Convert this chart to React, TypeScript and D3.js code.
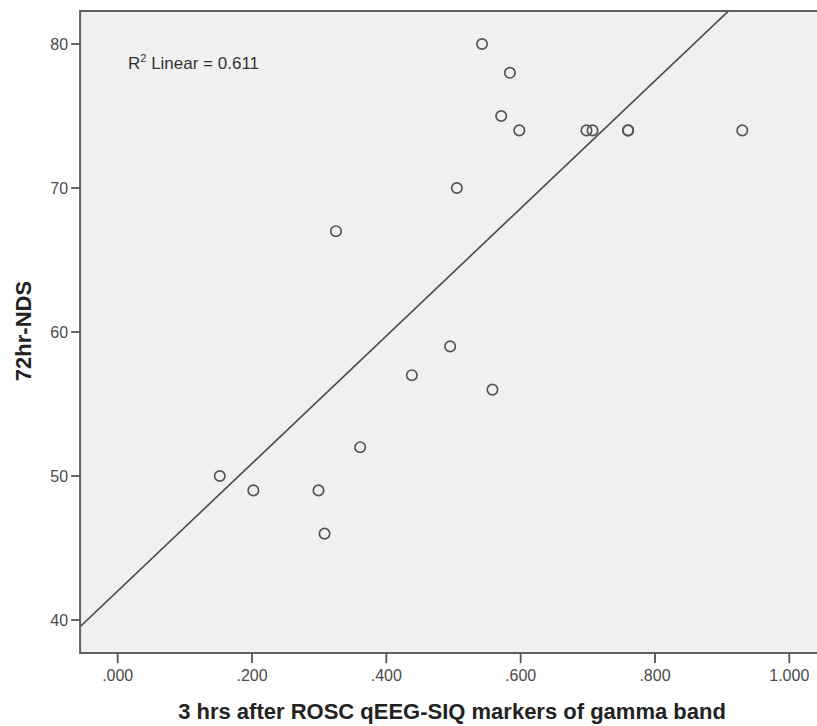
import React, { useEffect, useRef } from 'react';
import * as d3 from 'd3';

// scatter data
const siqGamma = [0.5425, 0.584, 0.571, 0.598, 0.698, 0.707, 0.760, 0.760, 0.930, 0.505,
  0.325, 0.495, 0.438, 0.558, 0.152, 0.202, 0.299, 0.308, 0.361];
const nds72 = [80, 78, 75, 74, 74, 74, 74, 74, 74, 70,
  67, 59, 57, 56, 50, 49, 49, 46, 52];

const xTicks = [0, 0.2, 0.4, 0.6, 0.8, 1.0];
const yTicks = [40, 50, 60, 70, 80];
const xDomain = [-0.056, 1.06];
const yDomain = [37.7, 82.3];

const r2Label = '0.611';
const xTitle = '3 hrs after ROSC qEEG-SIQ markers of gamma band';
const yTitle = '72hr-NDS';

const width = 817;
const height = 726;
const font = '"Liberation Sans", Arial, sans-serif';

function ScatterChart() {
  const ref = useRef<SVGSVGElement | null>(null);

  useEffect(() => {
    const svg = d3.select(ref.current);
    svg.selectAll('*').remove();

    var x = d3.scaleLinear().domain([0, 1]).range([117.7, 789.3]);
    var y = d3.scaleLinear().domain([40, 80]).range([620, 44]);

    var left = x(xDomain[0]);
    var right = x(xDomain[1]);
    var top = y(yDomain[1]);
    var bottom = y(yDomain[0]);

    svg.append('defs').append('clipPath').attr('id', 'plotClip')
      .append('rect').attr('x', left).attr('y', top)
      .attr('width', right - left).attr('height', bottom - top);

    // plot background
    svg.append('rect')
      .attr('x', left).attr('y', top)
      .attr('width', right - left).attr('height', bottom - top)
      .attr('fill', '#f0f0f0');

    // linear fit from the data
    var mx = d3.mean(siqGamma) as number;
    var my = d3.mean(nds72) as number;
    var sxy = d3.sum(siqGamma, (d, i) => (d - mx) * (nds72[i] - my));
    var sxx = d3.sum(siqGamma, d => (d - mx) * (d - mx));
    var slope = sxy / sxx;
    var icpt = my - slope * mx;
    var line = d3.line<number>().x(d => x(d)).y(d => y(icpt + slope * d));
    svg.append('path')
      .datum(xDomain)
      .attr('d', line)
      .attr('clip-path', 'url(#plotClip)')
      .attr('fill', 'none')
      .attr('stroke', '#4a4a4a')
      .attr('stroke-width', 1.6);

    // points
    svg.append('g')
      .attr('fill', 'none')
      .attr('stroke', '#555')
      .attr('stroke-width', 1.7)
      .selectAll('circle')
      .data(d3.range(siqGamma.length))
      .join('circle')
      .attr('cx', i => x(siqGamma[i]))
      .attr('cy', i => y(nds72[i]))
      .attr('r', 5.2);

    // frame
    svg.append('path')
      .attr('d', `M${right},${top}H${left}V${bottom}H${right}`)
      .attr('fill', 'none')
      .attr('stroke', '#606060')
      .attr('stroke-width', 2);

    // x ticks
    var xg = svg.append('g');
    xg.selectAll('line').data(xTicks).join('line')
      .attr('x1', d => x(d)).attr('x2', d => x(d))
      .attr('y1', bottom).attr('y2', bottom + 10)
      .attr('stroke', '#555').attr('stroke-width', 1.8);
    xg.selectAll('text').data(xTicks).join('text')
      .attr('x', d => x(d)).attr('y', bottom + 28)
      .attr('text-anchor', 'middle')
      .attr('font-family', font).attr('font-size', 16).attr('fill', '#4a4a4a')
      .text(d => (d === 1 ? '1.000' : d3.format('.3f')(d).replace(/^0/, '')));

    // y ticks
    var yg = svg.append('g');
    yg.selectAll('line').data(yTicks).join('line')
      .attr('x1', left - 9).attr('x2', left)
      .attr('y1', d => y(d)).attr('y2', d => y(d))
      .attr('stroke', '#555').attr('stroke-width', 1.8);
    yg.selectAll('text').data(yTicks).join('text')
      .attr('x', left - 12).attr('y', d => y(d)).attr('dy', '0.35em')
      .attr('text-anchor', 'end')
      .attr('font-family', font).attr('font-size', 16).attr('fill', '#4a4a4a')
      .text(d => d);

    // R squared label
    var rt = svg.append('text')
      .attr('x', 128).attr('y', 69)
      .attr('font-family', font).attr('font-size', 17).attr('fill', '#333');
    rt.append('tspan').text('R');
    rt.append('tspan').attr('font-size', 11).attr('dy', -7).text('2');
    rt.append('tspan').attr('dy', 7).text(' Linear = ' + r2Label);

    // axis titles
    svg.append('text')
      .attr('x', 452).attr('y', 719)
      .attr('text-anchor', 'middle')
      .attr('font-family', font).attr('font-size', 22).attr('font-weight', 'bold')
      .attr('fill', '#222')
      .text(xTitle);
    svg.append('text')
      .attr('transform', `translate(31,${331}) rotate(-90)`)
      .attr('text-anchor', 'middle')
      .attr('font-family', font).attr('font-size', 22).attr('font-weight', 'bold')
      .attr('fill', '#222')
      .text(yTitle);
  }, []);

  return (
    <svg ref={ref} width={width} height={height}
      style={{ position: 'absolute', left: 0, top: 0, background: '#fff' }} />
  );
}

export default function App() {
  return <ScatterChart />;
}
